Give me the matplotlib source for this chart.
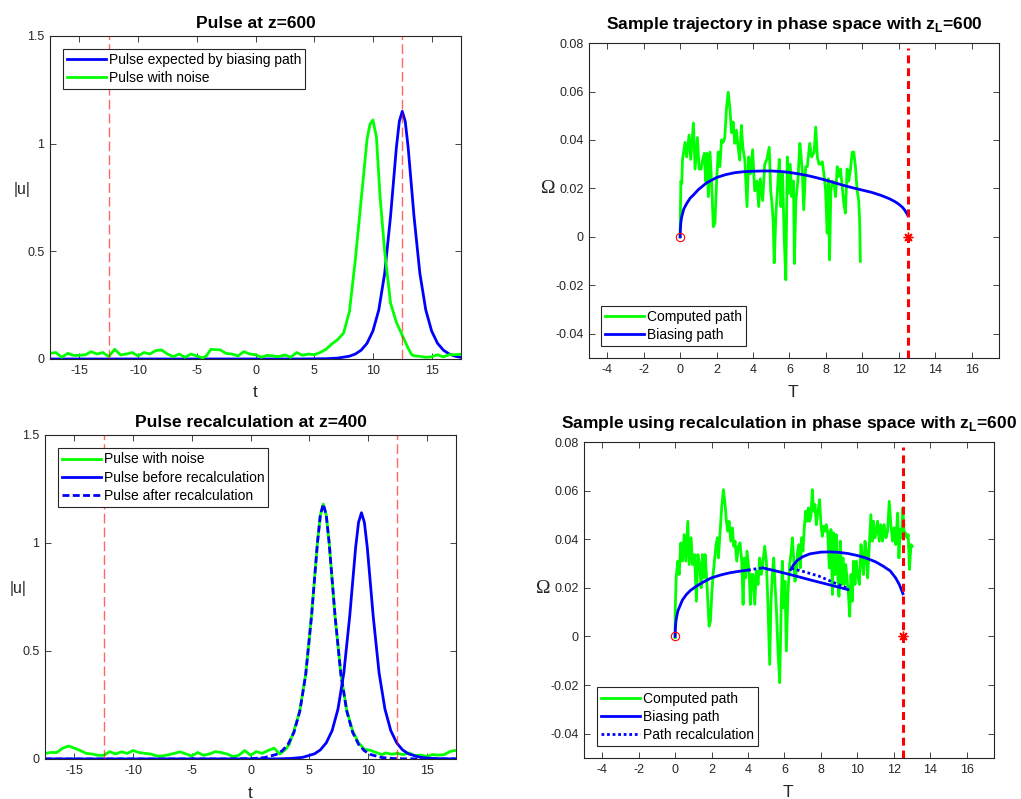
"""
plot.py

Four-panel pulse / phase-space figure (MATLAB look) redrawn with matplotlib.
Output: out.png
"""

import numpy as np
import matplotlib

matplotlib.use("Agg")
import matplotlib.pyplot as plt

# --- data ----------------------------------------------------------------

T_LIMIT = 12.5  # dashed marker position used in every panel

# top-left: pulse at z=600, (t, |u|)
TL_BLUE = [(-17.5, 0.0), (4, 0.0001), (6, 0.0013), (7, 0.0042), (8, 0.013),
           (8.5, 0.0231), (9, 0.041), (9.5, 0.073), (10, 0.13), (10.5, 0.228),
           (11, 0.397), (11.5, 0.662), (12, 0.983), (12.25, 1.104), (12.5, 1.15),
           (12.75, 1.104), (13, 0.983), (13.5, 0.662), (14, 0.397), (14.5, 0.228),
           (15, 0.13), (15.5, 0.073), (16, 0.041), (16.5, 0.0231), (17, 0.013),
           (17.5, 0.0073)]
TL_GREEN = [(-17.5, 0.026), (-17, 0.03), (-16.5, 0.008), (-16, 0.026), (-15.5, 0.017),
            (-15, 0.017), (-14.5, 0.019), (-14, 0.034), (-13.5, 0.023), (-13, 0.03),
            (-12.5, 0.011), (-12, 0.045), (-11.5, 0.019), (-11, 0.023), (-10.5, 0.03),
            (-10, 0.014), (-9.5, 0.03), (-9, 0.023), (-8.5, 0.039), (-8, 0.042),
            (-7.5, 0.023), (-7, 0.011), (-6.5, 0.023), (-6, 0.008), (-5.5, 0.023),
            (-5, 0.014), (-4.5, 0.005), (-4.2, 0.014), (-3.8, 0.045), (-3, 0.042),
            (-2.5, 0.026), (-2, 0.023), (-1.5, 0.014), (-1, 0.034), (-0.5, 0.023),
            (0, 0.02), (0.5, 0.008), (1, 0.017), (1.5, 0.014), (2, 0.011),
            (2.5, 0.019), (3, 0.008), (3.5, 0.03), (4, 0.017), (4.5, 0.023),
            (5, 0.02), (5.5, 0.03), (6, 0.045), (6.5, 0.07), (7, 0.09), (7.5, 0.12),
            (8, 0.22), (8.5, 0.46), (9, 0.74), (9.5, 1.02), (9.75, 1.09), (10, 1.11),
            (10.3, 1.03), (10.6, 0.76), (11, 0.5), (11.5, 0.26), (12, 0.17),
            (12.5, 0.11), (13, 0.05), (13.3, 0.02), (13.5, 0.015), (14, 0.012),
            (14.5, 0.008), (15, 0.01), (15.5, 0.02), (16, 0.01), (16.5, 0.02),
            (17, 0.02), (17.5, 0.022)]

# bottom-left: pulse recalculation at z=400, (t, |u|)
BL_GREEN = [(-17.5, 0.026), (-17, 0.03), (-16.5, 0.03), (-16, 0.05), (-15.5, 0.06),
            (-15, 0.05), (-14.5, 0.039), (-14, 0.026), (-13.5, 0.023), (-13, 0.017),
            (-12.5, 0.017), (-12, 0.034), (-11.5, 0.023), (-11, 0.033), (-10.5, 0.026),
            (-10, 0.039), (-9.5, 0.03), (-9, 0.026), (-8.5, 0.023), (-8, 0.014),
            (-7.5, 0.014), (-7, 0.019), (-6.5, 0.026), (-6, 0.033), (-5.5, 0.023),
            (-5, 0.014), (-4.5, 0.03), (-4, 0.017), (-3.5, 0.023), (-3, 0.034),
            (-2.5, 0.03), (-2, 0.023), (-1.5, 0.011), (-1, 0.017), (-0.5, 0.039),
            (0, 0.017), (0.5, 0.034), (1, 0.026), (1.5, 0.039), (2, 0.05),
            (2.5, 0.023), (3, 0.045), (3.3, 0.068), (3.7, 0.13), (4.2, 0.225),
            (4.7, 0.39), (5.2, 0.665), (5.7, 1.0), (5.95, 1.13), (6.2, 1.18),
            (6.45, 1.13), (6.7, 1.0), (7.2, 0.66), (7.7, 0.39), (8.2, 0.225),
            (8.7, 0.13), (9.2, 0.075), (9.7, 0.045), (10.2, 0.04), (10.7, 0.03),
            (11.2, 0.02), (11.5, 0.028), (12, 0.022), (12.5, 0.026), (13, 0.02),
            (13.5, 0.028), (14, 0.015), (14.5, 0.018), (15, 0.012), (15.5, 0.02),
            (16, 0.018), (16.5, 0.02), (17, 0.035), (17.5, 0.04)]
BL_BEFORE = [(-17.5, 0.0), (1.45, 0.0003), (2.45, 0.0008), (3.45, 0.0024), (4.45, 0.0076),
             (5.45, 0.0238), (5.95, 0.042), (6.45, 0.0745), (6.95, 0.131), (7.45, 0.231),
             (7.95, 0.399), (8.45, 0.661), (8.95, 0.977), (9.2, 1.095), (9.45, 1.14),
             (9.7, 1.095), (9.95, 0.977), (10.45, 0.661), (10.95, 0.399), (11.45, 0.231),
             (11.95, 0.131), (12.45, 0.0745), (12.95, 0.042), (13.45, 0.0238),
             (14.45, 0.0076), (15.45, 0.0024), (16.45, 0.0008), (17.5, 0.0003)]
BL_AFTER = [(-17.5, 0.0), (-2, 0.0), (0.2, 0.002), (1.2, 0.0065), (2.2, 0.021),
            (2.7, 0.038), (3.2, 0.068), (3.7, 0.123), (4.2, 0.221), (4.7, 0.39),
            (5.2, 0.663), (5.7, 1.0), (5.95, 1.13), (6.2, 1.18), (6.45, 1.13),
            (6.7, 1.0), (7.2, 0.663), (7.7, 0.39), (8.2, 0.221), (8.7, 0.123),
            (9.2, 0.068), (9.7, 0.038), (10.2, 0.021), (11.2, 0.0065), (12.2, 0.002),
            (13.2, 0.0007), (17.5, 0.0)]

# top-right: phase-space trajectory, (T, Omega)
TR_COMPUTED = [
    (0.00, 0.000), (0.02, 0.012), (0.04, 0.023), (0.09, 0.022), (0.13, 0.032),
    (0.27, 0.039), (0.36, 0.033), (0.49, 0.042), (0.58, 0.032), (0.73, 0.047),
    (0.82, 0.028), (0.95, 0.041), (1.04, 0.028), (1.15, 0.028), (1.24, 0.032),
    (1.33, 0.0345), (1.40, 0.023), (1.47, 0.0345), (1.55, 0.0166), (1.64, 0.035),
    (1.73, 0.022), (1.82, 0.0042), (1.91, 0.0057), (2.00, 0.023), (2.09, 0.035),
    (2.18, 0.029), (2.27, 0.040), (2.36, 0.039), (2.45, 0.041), (2.55, 0.0536),
    (2.64, 0.0597), (2.73, 0.053), (2.82, 0.043), (2.91, 0.0474), (3.00, 0.0386),
    (3.09, 0.044), (3.18, 0.0372), (3.27, 0.0317), (3.36, 0.046), (3.44, 0.037),
    (3.55, 0.0317), (3.67, 0.0125), (3.76, 0.033), (3.85, 0.026), (3.98, 0.036),
    (4.09, 0.019), (4.22, 0.023), (4.31, 0.0125), (4.40, 0.024), (4.53, 0.015),
    (4.64, 0.030), (4.76, 0.032), (4.89, 0.037), (4.97, 0.019), (5.04, 0.0138),
    (5.11, 0.0057), (5.16, -0.0107), (5.26, 0.0098), (5.37, 0.023), (5.44, 0.032),
    (5.53, 0.0125), (5.62, 0.026), (5.71, 0.000), (5.80, -0.0177), (5.88, 0.033),
    (5.95, 0.018), (6.04, 0.030), (6.13, 0.0166), (6.22, 0.023), (6.27, -0.011),
    (6.35, 0.015), (6.46, 0.023), (6.57, 0.0386), (6.64, 0.033), (6.71, 0.026),
    (6.78, 0.0112), (6.89, 0.029), (6.98, 0.029), (7.11, 0.0386), (7.22, 0.033),
    (7.35, 0.035), (7.44, 0.0453), (7.53, 0.033), (7.62, 0.030), (7.71, 0.030),
    (7.80, 0.031), (7.89, 0.026), (7.98, 0.0193), (8.07, 0.0016), (8.13, 0.024),
    (8.20, -0.0095), (8.27, 0.019), (8.35, 0.023), (8.44, 0.022), (8.53, 0.0166),
    (8.62, 0.029), (8.71, 0.025), (8.80, 0.028), (8.89, 0.021), (8.98, 0.0138),
    (9.07, 0.0098), (9.16, 0.028), (9.25, 0.023), (9.35, 0.028), (9.44, 0.035),
    (9.53, 0.035), (9.62, 0.029), (9.71, 0.0193), (9.80, 0.015), (9.85, 0.0068),
    (9.89, -0.0101)]
TR_BIASING = [
    (0.0, 0.0), (0.01, 0.003), (0.04, 0.006), (0.09, 0.0084), (0.2, 0.0115),
    (0.36, 0.0138), (0.55, 0.016), (0.73, 0.0173), (1.0, 0.0195), (1.45, 0.0223),
    (2.0, 0.0245), (2.5, 0.0257), (3.0, 0.0265), (3.5, 0.0269), (4.0, 0.0271),
    (4.5, 0.0272), (5.0, 0.0272), (5.5, 0.027), (6.0, 0.0266), (6.5, 0.026),
    (7.0, 0.0253), (7.5, 0.0244), (8.0, 0.0234), (8.5, 0.0223), (9.0, 0.0212),
    (9.5, 0.0202), (10.0, 0.0193), (10.5, 0.0184), (11.0, 0.0172), (11.5, 0.0157),
    (11.8, 0.0145), (12.0, 0.0135), (12.2, 0.0122), (12.35, 0.0108),
    (12.45, 0.0095), (12.5, 0.0088)]

# bottom-right: phase space with recalculation, (T, Omega)
BR_COMPUTED = [
    (0.0, -0.0005), (0.0, 0.009), (0.056, 0.0241), (0.148, 0.031), (0.221, 0.0255),
    (0.312, 0.0385), (0.403, 0.031), (0.495, 0.0419), (0.586, 0.031), (0.696, 0.0474),
    (0.769, 0.0296), (0.878, 0.0406), (0.951, 0.0296), (1.061, 0.0337), (1.171, 0.0145),
    (1.244, 0.0337), (1.353, 0.0296), (1.426, 0.02), (1.5, 0.0337), (1.573, 0.0241),
    (1.645, 0.0337), (1.718, 0.0255), (1.792, 0.0145), (1.865, 0.0042), (1.938, 0.0063),
    (2.011, 0.0173), (2.084, 0.0255), (2.157, 0.031), (2.248, 0.0378), (2.321, 0.0406),
    (2.376, 0.0323), (2.486, 0.0447), (2.559, 0.0536), (2.65, 0.0604), (2.741, 0.0543),
    (2.814, 0.0474), (2.887, 0.0433), (2.96, 0.0474), (3.052, 0.0392), (3.143, 0.0447),
    (3.216, 0.0371), (3.289, 0.0392), (3.38, 0.031), (3.472, 0.0371), (3.563, 0.0385),
    (3.655, 0.031), (3.728, 0.0132), (3.8, 0.0323), (3.874, 0.0241), (3.947, 0.0351),
    (4.056, 0.0269), (4.13, 0.0132), (4.2, 0.0255), (4.276, 0.0255), (4.367, 0.0132),
    (4.458, 0.0269), (4.55, 0.0214), (4.641, 0.0323), (4.732, 0.0255), (4.824, 0.031),
    (4.915, 0.0371), (5.006, 0.031), (5.098, 0.0118), (5.189, -0.0115), (5.262, 0.0145),
    (5.335, 0.0255), (5.408, 0.0323), (5.481, 0.0214), (5.554, 0.0118), (5.646, -0.006),
    (5.737, -0.019), (5.828, 0.0145), (5.883, 0.031), (5.956, 0.0118), (6.029, 0.0227),
    (6.102, -0.006), (6.194, 0.0186), (6.285, 0.0296), (6.376, 0.0351), (6.431, 0.0406),
    (6.504, 0.0323), (6.577, 0.0227), (6.65, 0.0269), (6.723, 0.0351), (6.796, 0.0378),
    (6.869, 0.0282), (6.942, 0.0406), (7.015, 0.0351), (7.089, 0.0447), (7.161, 0.0515),
    (7.235, 0.0474), (7.308, 0.0529), (7.381, 0.0474), (7.454, 0.0494), (7.527, 0.0604),
    (7.6, 0.0515), (7.673, 0.0543), (7.746, 0.046), (7.837, 0.0515), (7.929, 0.0563),
    (8.002, 0.046), (8.075, 0.0412), (8.148, 0.0453), (8.221, 0.0433), (8.294, 0.046),
    (8.37, 0.0428), (8.46, 0.0282), (8.55, 0.044), (8.63, 0.0173), (8.70, 0.0426),
    (8.77, 0.0255), (8.84, 0.0419), (8.92, 0.0255), (8.99, 0.0165), (9.06, 0.0392),
    (9.14, 0.0214), (9.21, 0.0323), (9.28, 0.0214), (9.36, 0.0296), (9.43, 0.0241),
    (9.50, 0.0186), (9.58, 0.0083), (9.65, 0.0255), (9.72, 0.0145), (9.79, 0.031),
    (9.87, 0.0214), (9.94, 0.031), (10.01, 0.0255), (10.11, 0.0214), (10.20, 0.0378),
    (10.27, 0.0323), (10.34, 0.0255), (10.42, 0.0392), (10.49, 0.0351), (10.56, 0.0241),
    (10.64, 0.0351), (10.74, 0.0501), (10.82, 0.0392), (10.89, 0.0474), (10.96, 0.0406),
    (11.04, 0.0433), (11.11, 0.0474), (11.20, 0.0392), (11.29, 0.046), (11.38, 0.0392),
    (11.47, 0.046), (11.57, 0.0406), (11.66, 0.0433), (11.75, 0.0556), (11.84, 0.046),
    (11.93, 0.0392), (12.02, 0.0447), (12.11, 0.0378), (12.21, 0.0508), (12.28, 0.0323),
    (12.35, 0.044), (12.42, 0.0406), (12.50, 0.0529), (12.57, 0.0419), (12.64, 0.0426),
    (12.72, 0.0406), (12.79, 0.0419), (12.86, 0.0276), (12.94, 0.0378), (13.01, 0.0371)]
BR_BIAS_1 = [(0.0, 0.0), (0.01, 0.003), (0.04, 0.006), (0.07, 0.0075), (0.15, 0.0105),
             (0.26, 0.0125), (0.4, 0.015), (0.62, 0.0173), (0.85, 0.019), (1.17, 0.0207),
             (1.55, 0.0224), (1.99, 0.0241), (2.5, 0.0253), (3.0, 0.0262), (3.5, 0.0268),
             (4.0, 0.0273)]
BR_RECALC_1 = [(4.0, 0.0273), (4.4, 0.0278), (4.82, 0.0282)]
BR_BIAS_2 = [(4.82, 0.0282), (5.5, 0.027), (6.5, 0.0251), (7.5, 0.0231),
             (8.5, 0.0212), (9.48, 0.0193)]
BR_RECALC_2 = [(6.38, 0.028), (7.0, 0.0268), (7.9, 0.0248), (8.7, 0.0222), (9.39, 0.020)]
BR_BIAS_3 = [(6.34, 0.0275), (6.5, 0.0295), (6.7, 0.0313), (7.0, 0.0328), (7.4, 0.034),
             (8.0, 0.0347), (8.5, 0.0348), (9.0, 0.0346), (9.5, 0.0341), (10.0, 0.0333),
             (10.5, 0.0322), (11.0, 0.0307), (11.4, 0.029), (11.8, 0.027), (12.1, 0.0241),
             (12.3, 0.0214), (12.45, 0.0186), (12.5, 0.0176)]

# ticks
PULSE_XTICKS = [-15, -10, -5, 0, 5, 10, 15]
PULSE_YTICKS = [0, 0.5, 1, 1.5]
PULSE_YLABELS = ["0", "0.5", "1", "1.5"]
PHASE_XTICKS = [-4, -2, 0, 2, 4, 6, 8, 10, 12, 14, 16]
PHASE_YTICKS = [-0.04, -0.02, 0, 0.02, 0.04, 0.06, 0.08]
PHASE_YLABELS = ["-0.04", "-0.02", "0", "0.02", "0.04", "0.06", "0.08"]

# --- style ---------------------------------------------------------------

GREEN = "#00ff00"
BLUE = "#0000ff"
RED = "#ff0000"
AXCOL = "#262626"
LW = 2.0

plt.rcParams["font.family"] = ["Liberation Sans", "DejaVu Sans"]
plt.rcParams["mathtext.fontset"] = "custom"
plt.rcParams["mathtext.rm"] = "Liberation Sans"
plt.rcParams["mathtext.bf"] = "Liberation Sans:bold"
plt.rcParams["axes.unicode_minus"] = False


def xy(pairs):
    arr = np.array(pairs, dtype=float)
    return arr[:, 0], arr[:, 1]


def style_axes(ax, xlim, ylim, xticks, yticks, ylabels):
    ax.set_xlim(*xlim)
    ax.set_ylim(*ylim)
    ax.set_xticks(xticks)
    ax.set_xticklabels([str(v) for v in xticks])
    ax.set_yticks(yticks)
    ax.set_yticklabels(ylabels)
    ax.tick_params(direction="in", top=True, right=True, length=4, width=0.6,
                   labelsize=9, colors=AXCOL, pad=4)
    for sp in ax.spines.values():
        sp.set_color(AXCOL)
        sp.set_linewidth(0.8)


def set_labels(ax, xlabel, xpos, ylabel, ypos, yfamily=None, ysize=11.5):
    ax.set_xlabel(xlabel, fontsize=12.5, color=AXCOL, va="center", ha="center")
    ax.xaxis.set_label_coords(*xpos)
    kw = {"family": yfamily} if yfamily else {}
    ax.set_ylabel(ylabel, fontsize=ysize, color=AXCOL, rotation=0,
                  ha="center", va="center", **kw)
    ax.yaxis.set_label_coords(*ypos)


def add_legend(ax, loc, anchor):
    leg = ax.legend(loc=loc, bbox_to_anchor=anchor, borderaxespad=0, fontsize=10,
                    fancybox=False, framealpha=1, edgecolor=AXCOL,
                    handlelength=2.8, handletextpad=0.2, borderpad=0.3,
                    labelspacing=0.3)
    leg.get_frame().set_linewidth(0.8)


def thin_limits(ax):
    for xv in (-T_LIMIT, T_LIMIT):
        ax.axvline(xv, color=RED, alpha=0.6, lw=1.0, linestyle=(0, (7, 3)), zorder=4)


def thick_limit(ax):
    ax.axvline(T_LIMIT, ymax=0.985, color=RED, lw=2.2, linestyle=(0, (2.6, 1.6)), zorder=4)
    ax.plot(0, 0, "o", mfc="none", mec=RED, ms=6, mew=0.8, zorder=5)
    ax.plot(T_LIMIT, 0, marker=(8, 2, 0), color=RED, ms=7, mew=1.0, zorder=5)


# --- figure --------------------------------------------------------------

fig = plt.figure(figsize=(10.21, 7.99), dpi=100)
ax_tl = fig.add_axes([0.049, 0.5507, 0.4025, 0.4043])
ax_tr = fig.add_axes([0.5769, 0.5519, 0.4016, 0.3942])
ax_bl = fig.add_axes([0.0441, 0.0501, 0.4025, 0.4055])
ax_br = fig.add_axes([0.572, 0.0513, 0.4016, 0.3955])

SERIF = ["Liberation Serif", "DejaVu Serif"]

# top-left
ax_tl.plot(*xy(TL_BLUE), color=BLUE, lw=LW, label="Pulse expected by biasing path")
ax_tl.plot(*xy(TL_GREEN), color=GREEN, lw=LW, label="Pulse with noise")
thin_limits(ax_tl)
style_axes(ax_tl, (-17.5, 17.5), (0, 1.5), PULSE_XTICKS, PULSE_YTICKS, PULSE_YLABELS)
ax_tl.set_title("Pulse at z=600", fontsize=12.5, fontweight="bold", pad=6)
set_labels(ax_tl, "t", (0.5, -0.105), "|u|", (-0.068, 0.526))
add_legend(ax_tl, "upper left", (0.031, 0.96))

# bottom-left
ax_bl.plot(*xy(BL_GREEN), color=GREEN, lw=LW, label="Pulse with noise")
ax_bl.plot(*xy(BL_BEFORE), color=BLUE, lw=LW, label="Pulse before recalculation")
ax_bl.plot(*xy(BL_AFTER), color=BLUE, lw=LW, linestyle=(0, (2.5, 1.2)),
           label="Pulse after recalculation")
thin_limits(ax_bl)
style_axes(ax_bl, (-17.5, 17.5), (0, 1.5), PULSE_XTICKS, PULSE_YTICKS, PULSE_YLABELS)
ax_bl.set_title("Pulse recalculation at z=400", fontsize=12.5, fontweight="bold", pad=6)
set_labels(ax_bl, "t", (0.5, -0.106), "|u|", (-0.065, 0.527))
add_legend(ax_bl, "upper left", (0.031, 0.959))

# top-right
ax_tr.plot(*xy(TR_COMPUTED), color=GREEN, lw=LW, label="Computed path")
ax_tr.plot(*xy(TR_BIASING), color=BLUE, lw=LW, label="Biasing path")
thick_limit(ax_tr)
style_axes(ax_tr, (-5, 17.5), (-0.05, 0.08), PHASE_XTICKS, PHASE_YTICKS, PHASE_YLABELS)
ax_tr.set_title(r"Sample trajectory in phase space with z$_\mathbf{L}$=600",
                fontsize=12.5, fontweight="bold", pad=10)
set_labels(ax_tr, "T", (0.498, -0.11), "Ω", (-0.1, 0.537), SERIF, 14)
add_legend(ax_tr, "lower left", (0.030, 0.038))

# bottom-right
ax_br.plot(*xy(BR_COMPUTED), color=GREEN, lw=LW, label="Computed path")
ax_br.plot(*xy(BR_BIAS_1), color=BLUE, lw=LW, label="Biasing path")
ax_br.plot(*xy(BR_RECALC_1), color=BLUE, lw=LW, linestyle=(0, (1, 1)),
           label="Path recalculation")
ax_br.plot(*xy(BR_BIAS_2), color=BLUE, lw=LW)
ax_br.plot(*xy(BR_RECALC_2), color=BLUE, lw=LW, linestyle=(0, (1, 1)))
ax_br.plot(*xy(BR_BIAS_3), color=BLUE, lw=LW)
thick_limit(ax_br)
style_axes(ax_br, (-5, 17.5), (-0.05, 0.08), PHASE_XTICKS, PHASE_YTICKS, PHASE_YLABELS)
ax_br.set_title(r"Sample using recalculation in phase space with z$_\mathbf{L}$=600",
                fontsize=12.5, fontweight="bold", pad=10)
set_labels(ax_br, "T", (0.498, -0.11), "Ω", (-0.1, 0.535), SERIF, 14)
add_legend(ax_br, "lower left", (0.031, 0.038))

fig.savefig("out.png", dpi=100)
